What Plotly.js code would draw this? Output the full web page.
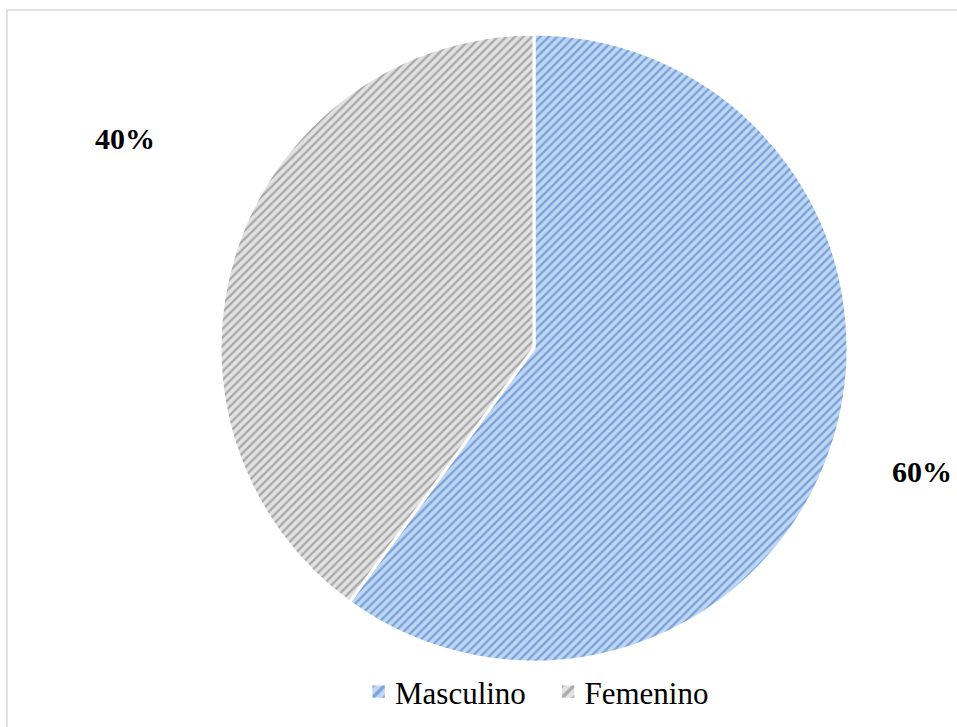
<!DOCTYPE html>
<html>
<head>
<meta charset="utf-8">
<script src="https://cdn.plot.ly/plotly-3.0.1.min.js"></script>
<style>
  html, body { margin: 0; padding: 0; background: #ffffff; }
  #chart { width: 957px; height: 727px; }
</style>
</head>
<body>
<div id="chart"></div>
<script>
// Distribution by sex
const categories = ['Masculino', 'Femenino'];
const shares = [60, 40];

const fillColors = ['#c0d7f4', '#e2e2e2'];
const patternColors = ['#7aa3da', '#a9a9a9'];

const W = 957, H = 727;
// pie centre and radius in pixels
const cx = 534, cy = 348, r = 314;

const total = shares.reduce((a, b) => a + b, 0);
const pctText = shares.map(v => Math.round(v / total * 100) + '%');

// label positions for each slice, in pixels
const labelPos = [[922, 472], [125, 138]];

const serif = 'Liberation Serif, Times New Roman, serif';

const trace = {
  type: 'pie',
  labels: categories,
  values: shares,
  sort: false,
  direction: 'clockwise',
  rotation: 0,
  textinfo: 'none',
  hoverinfo: 'label+percent',
  domain: { x: [(cx - r) / W, (cx + r) / W], y: [1 - (cy + r) / H, 1 - (cy - r) / H] },
  marker: {
    colors: fillColors,
    line: { color: '#ffffff', width: 3 },
    pattern: {
      shape: '/',
      fgcolor: patternColors,
      bgcolor: fillColors,
      size: 6,
      solidity: 0.4,
      fillmode: 'replace'
    }
  }
};

const annotations = pctText.map((t, i) => ({
  xref: 'paper', yref: 'paper',
  x: labelPos[i][0] / W, y: 1 - labelPos[i][1] / H,
  xanchor: 'center', yanchor: 'middle',
  text: '<b>' + t + '</b>',
  showarrow: false,
  font: { family: serif, size: 30, color: '#000000' }
}));

const layout = {
  width: W, height: H,
  margin: { l: 0, r: 0, t: 0, b: 0 },
  paper_bgcolor: '#ffffff',
  showlegend: true,
  legend: {
    orientation: 'h',
    x: 355 / W, xanchor: 'left',
    y: 1 - 692 / H, yanchor: 'middle',
    font: { family: serif, size: 31, color: '#000000' },
    itemwidth: 30,
    entrywidth: 144.5,
    entrywidthmode: 'pixels',
    traceorder: 'normal'
  },
  annotations: annotations,
  shapes: [{
    type: 'rect', xref: 'paper', yref: 'paper',
    x0: 7 / W, x1: 1.02, y0: -0.02, y1: 1 - 10 / H,
    line: { color: '#d9d9d9', width: 1.5 },
    fillcolor: 'rgba(0,0,0,0)'
  }]
};

Plotly.newPlot('chart', [trace], layout, { displayModeBar: false, staticPlot: true }).then(gd => {
  // enlarge the legend swatches
  gd.querySelectorAll('.legendpoints').forEach(g => g.setAttribute('transform', 'translate(-4,0) scale(1.38)'));
});
</script>
</body>
</html>
